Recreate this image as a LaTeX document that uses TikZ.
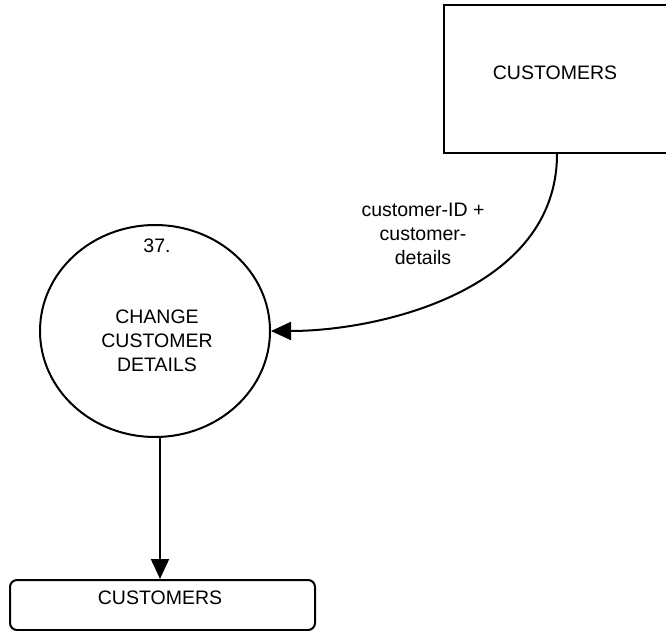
\documentclass[tikz,border=0pt]{standalone}
\usepackage{fontspec}
\setmainfont{Liberation Sans}
\usetikzlibrary{arrows.meta,shapes.geometric}
\tikzset{
  lw/.style={line width=2pt},
  txt/.style={font=\fontsize{19.5}{24}\selectfont, align=center, inner sep=0pt},
  flow/.style={lw, -{Triangle[length=20pt,width=18pt]}},
}
\begin{document}
\begin{tikzpicture}[x=1pt,y=-1pt]
\useasboundingbox (0,0) rectangle (666,631);
\clip (0,0) rectangle (666,631);
% external entity (extends off the right edge)
\node[lw, draw, minimum width=226pt, minimum height=148pt, inner sep=0pt] (ent) at (557,79) {};
\node[txt] (entlbl) at (555,73) {CUSTOMERS};
% process
\node[lw, draw, ellipse, minimum width=230pt, minimum height=212pt, inner sep=0pt] (proc) at (155,331) {};
\node[txt] (pnum) at (157,246) {37.};
\node[txt] (ptxt) at (157,341) {CHANGE\\CUSTOMER\\DETAILS};
% data store
\node[lw, draw, rounded corners=7pt, minimum width=305pt, minimum height=50pt, inner sep=0pt] (store) at (162.5,605) {};
\node[txt] (storelbl) at (160,598) {CUSTOMERS};
% flows
\coordinate (pbot) at (160,437);
\draw[flow] (ent.south) .. controls (557,290) and (380,331) .. (proc.east);
\node[txt] (flbl) at (423,234) {customer-ID +\\customer-\\details};
\draw[flow] (pbot) -- (pbot |- store.north);
\end{tikzpicture}
\end{document}
